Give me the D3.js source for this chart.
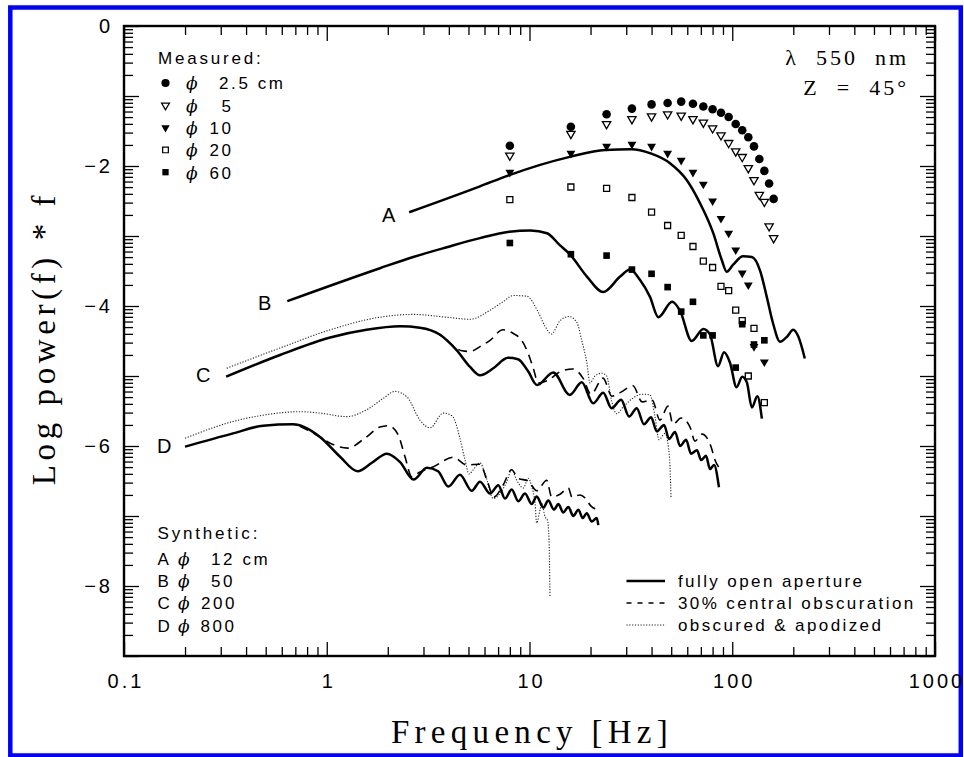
<!DOCTYPE html>
<html><head><meta charset="utf-8">
<script src="https://cdn.jsdelivr.net/npm/d3@7"></script>
<style>
body{margin:0;background:#fff}
.sans{font-family:"Liberation Sans",Arial,sans-serif}
.serif{font-family:"Liberation Serif","Times New Roman",serif}
.phi{font-family:"DejaVu Serif",serif;font-style:italic}
</style>
</head><body>
<svg id="c" width="964" height="757"></svg>
<script>
// ---------- data ----------
const xTickValues = [0.1, 1, 10, 100, 1000];
const xTickLabels = ["0.1", "1", "10", "100", "1000"];
const yTickValues = [0, -2, -4, -6, -8];

// measured points (Hz, log power*f)
const measFreq = [8,16,24,32,40,48,56,64,72,80,88,96,104,112,120,128,136,144,152,160];
const meas25 = [-1.71,-1.44,-1.26,-1.18,-1.12,-1.10,-1.08,-1.11,-1.15,-1.19,-1.24,-1.30,-1.40,-1.49,-1.59,-1.72,-1.90,-2.07,-2.25,-2.47];
const meas5  = [-1.85,-1.54,-1.40,-1.33,-1.29,-1.26,-1.28,-1.33,-1.38,-1.46,-1.56,-1.67,-1.79,-1.87,-2.03,-2.20,-2.41,-2.51,-2.86,-3.03];
const meas10Freq = [8,16,24,32,40,48,56,64,72,80,88,96,104,112,120,128,144];
const meas10 = [-2.09,-1.82,-1.72,-1.69,-1.72,-1.82,-1.92,-2.09,-2.26,-2.50,-2.75,-2.96,-3.20,-3.53,-3.70,-4.58,-4.80];
const meas20Freq = [8,16,24,32,40,48,56,64,72,80,88,96,104,112,120,128,144];
const meas20 = [-2.48,-2.30,-2.32,-2.45,-2.66,-2.85,-2.99,-3.15,-3.36,-3.45,-3.72,-3.78,-4.06,-4.21,-5.00,-4.32,-5.38];
const meas60Freq = [8,16,24,32,40,48,56,64,72,80,104,112,128,144];
const meas60 = [-3.10,-3.26,-3.28,-3.48,-3.54,-3.73,-4.08,-3.94,-4.42,-4.42,-4.88,-4.26,-4.55,-4.49];

// synthetic curves
const aFreq = [2.55,5.70,7.95,15.8,23.6,31.7,39.6,49.3,59.6,69.3,80.6,88.7,93.9,101,113,125,137,148,159,172,186,200,212,228];
const aVal  = [-2.66,-2.29,-2.13,-1.87,-1.77,-1.76,-1.82,-1.96,-2.20,-2.53,-2.96,-3.34,-3.51,-3.41,-3.29,-3.30,-3.49,-3.87,-4.25,-4.51,-4.44,-4.34,-4.44,-4.75];

const bFreq = [0.639,1.83,2.67,3.91,5.70,7.95,10.1,12.2,14.1,15.8,19.2,23.1,28.0,31.3,35.1,39.3,43.2,50.5,55.3,63.1,72.0,77.7,85.1,91.1,97.5,105,112,118,125,133,140];
const bVal  = [-3.93,-3.46,-3.30,-3.16,-3.03,-2.94,-2.92,-2.96,-3.13,-3.26,-3.58,-3.80,-3.58,-3.48,-3.63,-3.87,-4.16,-3.94,-4.07,-4.50,-4.33,-4.41,-4.86,-4.66,-4.81,-5.16,-5.01,-5.09,-5.45,-5.29,-5.61];

const cFreq = [0.319,0.588,1.04,1.57,2.30,2.88,3.62,4.37,5.09,5.70,6.63,7.83,8.78,9.83,10.9,13.1,15.8,18.1,20.6,23.1,25.4,28.3,31.0,33.8,36.7,39.8,42.4,46.1,48.8,52.2,55.3,59.2,62.6,67.0,70.2,74.2,77.7,81.3,86.0];
const cVal  = [-5.01,-4.70,-4.45,-4.34,-4.29,-4.31,-4.41,-4.63,-4.87,-4.99,-4.89,-4.74,-4.76,-4.93,-5.13,-4.95,-5.27,-5.09,-5.39,-5.24,-5.46,-5.34,-5.58,-5.46,-5.69,-5.59,-5.79,-5.70,-5.90,-5.80,-6.00,-5.91,-6.11,-6.06,-6.20,-6.14,-6.33,-6.27,-6.59];
const cDashFreq = [2.88,3.62,4.29,4.65,5.09,5.70,6.39,7.40,8.29,9.15,9.86,10.44,11.05,12.34,14.14,16.39,18.36,20.11,23.05,25.52,28.27,32.4,35.9,40.2,44.0,48.2,51.0,55.9,61.9,65.5,70.9,78.6,82.2,88.0];
const cDashVal  = [-4.31,-4.41,-4.59,-4.64,-4.65,-4.58,-4.49,-4.34,-4.39,-4.49,-4.68,-4.89,-5.10,-5.06,-4.94,-4.90,-5.03,-5.26,-5.03,-5.29,-5.23,-5.14,-5.37,-5.34,-5.63,-5.43,-5.69,-5.60,-5.73,-5.93,-5.83,-6.01,-6.20,-6.34];
const cDotFreq = [0.321,0.588,1.04,1.83,2.67,3.91,5.09,6.39,7.40,8.32,9.69,11.05,11.93,12.84,14.14,15.66,17.15,18.09,19.15,19.88,21.04,22.71,24.03,25.43,26.92,29.01,31.92,35.77,39.29,41.59,43.52,46.6,48.38,49.32,49.88];
const cDotVal  = [-4.89,-4.60,-4.34,-4.16,-4.12,-4.16,-4.19,-4.06,-3.94,-3.85,-3.86,-4.09,-4.29,-4.40,-4.21,-4.15,-4.24,-4.49,-4.80,-5.10,-5.00,-4.96,-5.00,-5.36,-5.54,-5.44,-5.33,-5.26,-5.27,-5.58,-5.91,-5.82,-6.01,-6.30,-6.73];

const dFreq = [0.2,0.345,0.485,0.682,0.926,1.16,1.42,1.67,1.98,2.30,2.68,3.12,3.54,3.98,4.54,5.19,5.70,6.39,7.02,7.57,8.17,8.81,9.50,10.25,10.85,11.7,12.38,13.21,13.87,14.68,15.54,16.44,17.41,18.3,19.15,20.27,21.45,21.85];
const dVal  = [-6.01,-5.82,-5.71,-5.69,-5.87,-6.15,-6.36,-6.24,-6.11,-6.23,-6.48,-6.31,-6.36,-6.58,-6.41,-6.64,-6.51,-6.68,-6.56,-6.75,-6.62,-6.79,-6.68,-6.83,-6.72,-6.88,-6.78,-6.91,-6.83,-6.95,-6.87,-7.00,-6.91,-7.03,-6.96,-7.08,-7.03,-7.13];
const dDashFreq = [0.738,0.926,1.04,1.27,1.54,1.83,2.01,2.25,2.43,2.63,2.88,3.34,4.21,4.90,5.70,6.17,6.68,7.40,8.17,8.78,9.86,10.85,12.16,12.87,14.14,15.54,16.2,17.75,18.78,20.11,21.85];
const dDashVal  = [-5.72,-5.87,-5.96,-6.03,-5.89,-5.73,-5.71,-5.84,-6.15,-6.44,-6.37,-6.30,-6.16,-6.27,-6.26,-6.49,-6.73,-6.56,-6.34,-6.46,-6.50,-6.64,-6.49,-6.73,-6.69,-6.60,-6.73,-6.70,-6.74,-6.86,-6.91];
const dDotFreq = [0.2,0.345,0.485,0.738,0.926,1.25,1.60,1.90,2.17,2.49,2.88,3.23,3.76,4.15,4.54,4.81,5.03,5.28,5.70,6.03,6.63,7.15,7.72,8.17,8.65,9.32,9.86,10.25,10.65,10.85,11.27,11.49,11.93,12.27,12.48,12.62];
const dDotVal  = [-5.89,-5.65,-5.56,-5.51,-5.53,-5.58,-5.47,-5.32,-5.22,-5.30,-5.63,-5.74,-5.53,-5.57,-5.89,-6.20,-6.40,-6.34,-6.24,-6.39,-6.75,-6.68,-6.51,-6.34,-6.49,-6.60,-6.46,-6.58,-6.82,-7.10,-6.91,-6.82,-7.01,-7.06,-7.34,-8.16];

const measuredLegend = [
  {sym:"circle", label:"2.5 cm", nx:219},
  {sym:"triOpen", label:"5", nx:221.5},
  {sym:"triFill", label:"10", nx:209.5},
  {sym:"sqOpen", label:"20", nx:209.5},
  {sym:"sqFill", label:"60", nx:209.5}
];
const syntheticLegend = [
  {key:"A", label:"12 cm", nx:211},
  {key:"B", label:"50", nx:211},
  {key:"C", label:"200", nx:201},
  {key:"D", label:"800", nx:200.5}
];
const lineLegend = ["fully open aperture", "30% central obscuration", "obscured & apodized"];

// ---------- drawing ----------
const svg = d3.select("#c");
const L = 124, R = 935, T = 26, B = 656;
const x = d3.scaleLog().domain([0.1, 1000]).range([L, R]);
const y = d3.scaleLinear().domain([0, -9]).range([T, B]);

svg.append("rect").attr("x",10.3).attr("y",7.5).attr("width",950.5).attr("height",748)
  .attr("fill","none").attr("stroke","#0000ff").attr("stroke-width",4.5);

// ticks
const xMinor = [];
[0.1,1,10,100].forEach(d => { for (let k=2;k<=9;k++) xMinor.push(k*d); });
const yMajor = d3.range(-9, 1);
const yMinor = [];
for (let n=-9;n<0;n++) for (let k=2;k<=9;k++) yMinor.push(n + Math.log10(k));

function tickGroup(axis, tx, ty) {
  const g = svg.append("g").attr("transform",`translate(${tx},${ty})`).call(axis);
  g.select(".domain").remove();
  g.selectAll(".tick line").attr("stroke","#000").attr("stroke-width",1.3);
  return g;
}
tickGroup(d3.axisBottom(x).tickValues(xMinor).tickSize(-9).tickFormat(""), 0, B);
tickGroup(d3.axisTop(x).tickValues(xMinor).tickSize(-9).tickFormat(""), 0, T);
tickGroup(d3.axisTop(x).tickValues(xTickValues).tickSize(-15).tickFormat(""), 0, T);
const xb = tickGroup(d3.axisBottom(x).tickValues(xTickValues).tickSize(-14).tickPadding(18)
  .tickFormat((d,i)=>xTickLabels[i]), 0, B);
xb.selectAll("text").attr("class","sans").attr("font-size",20).attr("letter-spacing",3)
  .attr("fill","#000").attr("dx",1.5);

tickGroup(d3.axisLeft(y).tickValues(yMinor).tickSize(-9).tickFormat(""), L, 0);
tickGroup(d3.axisRight(y).tickValues(yMinor).tickSize(-9).tickFormat(""), R, 0);
tickGroup(d3.axisRight(y).tickValues(yMajor).tickSize(-15).tickFormat(""), R, 0);
tickGroup(d3.axisLeft(y).tickValues(yMajor).tickSize(-15).tickFormat(""), L, 0);
const yl = tickGroup(d3.axisLeft(y).tickValues(yTickValues).tickSize(0).tickPadding(14)
  .tickFormat(d3.format("d")), L, 0);
yl.selectAll("text").attr("class","sans").attr("font-size",20).attr("letter-spacing",3)
  .attr("fill","#000").attr("dx",3);

// frame
svg.append("rect").attr("x",L).attr("y",T).attr("width",R-L).attr("height",B-T)
  .attr("fill","none").attr("stroke","#000").attr("stroke-width",2.4);

// curves
const line = d3.line().x(d=>x(d[0])).y(d=>y(d[1])).curve(d3.curveMonotoneX);
const styles = {
  solid:{w:2.5, dash:null, c:"#000"},
  dash:{w:1.6, dash:"9,6", c:"#000"},
  dot:{w:1.1, dash:"1.2,1.6", c:"#222"}
};
function curve(f, v, st) {
  const s = styles[st];
  svg.append("path").datum(d3.zip(f, v)).attr("d", line)
    .attr("fill","none").attr("stroke",s.c).attr("stroke-width",s.w)
    .attr("stroke-linejoin","round").attr("stroke-dasharray",s.dash);
}
curve(cDotFreq, cDotVal, "dot");
curve(dDotFreq, dDotVal, "dot");
curve(cDashFreq, cDashVal, "dash");
curve(dDashFreq, dDashVal, "dash");
curve(aFreq, aVal, "solid");
curve(bFreq, bVal, "solid");
curve(cFreq, cVal, "solid");
curve(dFreq, dVal, "solid");

// markers
const symPath = {
  circle: d3.symbol().type(d3.symbolCircle).size(58)(),
  triOpen: d3.symbol().type(d3.symbolTriangle).size(30)(),
  triFill: d3.symbol().type(d3.symbolTriangle).size(34)(),
  sqOpen: d3.symbol().type(d3.symbolSquare).size(36)(),
  sqFill: d3.symbol().type(d3.symbolSquare).size(44)()
};
function marker(g, sym, px, py, scale) {
  const p = g.append("path").attr("d", symPath[sym]);
  let tr = `translate(${px},${py})`;
  if (sym.startsWith("tri")) tr += " rotate(180)";
  if (scale) tr += ` scale(${scale})`;
  p.attr("transform", tr);
  if (sym === "triOpen" || sym === "sqOpen") p.attr("fill","#fff").attr("stroke","#000").attr("stroke-width",1.3);
  else p.attr("fill","#000");
}
const mg = svg.append("g");
function series(f, v, sym) { f.forEach((d,i)=> marker(mg, sym, x(d), y(v[i]))); }
series(measFreq, meas25, "circle");
series(measFreq, meas5, "triOpen");
series(meas10Freq, meas10, "triFill");
series(meas20Freq, meas20, "sqOpen");
series(meas60Freq, meas60, "sqFill");

// curve labels
const curveLabels = [["A",382,221.5],["B",258,310],["C",196,381.5],["D",157,452.5]];
curveLabels.forEach(([t,px,py]) => svg.append("text").attr("class","sans").attr("x",px).attr("y",py)
  .attr("font-size",20).text(t));

// measured legend
svg.append("text").attr("class","sans").attr("x",158).attr("y",64).attr("font-size",17)
  .attr("letter-spacing",2.8).text("Measured:");
measuredLegend.forEach((d,i) => {
  const cy = 83 + i*22.3;
  marker(svg, d.sym, 165.5, cy, 0.95);
  const t = svg.append("text").attr("class","sans").attr("y",cy+6.3).attr("font-size",17).attr("letter-spacing",2.6);
  t.append("tspan").attr("class","phi").attr("x",186).text("ϕ");
  t.append("tspan").attr("x",d.nx).text(d.label);
});

// synthetic legend
svg.append("text").attr("class","sans").attr("x",157.5).attr("y",539).attr("font-size",17)
  .attr("letter-spacing",2.8).text("Synthetic:");
syntheticLegend.forEach((d,i) => {
  const by = 565 + i*22.2;
  const t = svg.append("text").attr("class","sans").attr("y",by).attr("font-size",17).attr("letter-spacing",2.6);
  t.append("tspan").attr("x",157.5).text(d.key);
  t.append("tspan").attr("class","phi").attr("x",178).text("ϕ");
  t.append("tspan").attr("x",d.nx).text(d.label);
});

// line style legend
const lstyles = [["solid",2.4,null],["dash",1.5,"5,6"],["dot",1.1,"1.2,1.6"]];
lineLegend.forEach((lab,i) => {
  const ly = 581 + i*22;
  svg.append("line").attr("x1",626.5).attr("x2",665).attr("y1",ly).attr("y2",ly)
    .attr("stroke",i===2?"#222":"#000").attr("stroke-width",lstyles[i][1]).attr("stroke-dasharray",lstyles[i][2]);
  svg.append("text").attr("class","sans").attr("x",678).attr("y",ly+6).attr("font-size",17)
    .attr("letter-spacing",2.4).text(lab);
});

// conditions
svg.append("text").attr("class","serif").attr("x",909).attr("y",65).attr("font-size",22)
  .attr("letter-spacing",3).attr("text-anchor","end").attr("xml:space","preserve").text("λ  550  nm");
svg.append("text").attr("class","serif").attr("x",909).attr("y",95).attr("font-size",22)
  .attr("letter-spacing",3).attr("text-anchor","end").attr("xml:space","preserve").text("Z  =  45°");

// axis titles
svg.append("text").attr("class","serif").attr("x",532).attr("y",743).attr("font-size",33)
  .attr("letter-spacing",5.3).attr("text-anchor","middle").text("Frequency [Hz]");
svg.append("text").attr("class","serif").attr("transform","translate(55,338) rotate(-90)")
  .attr("font-size",33).attr("letter-spacing",4.6).attr("text-anchor","middle").text("Log power(f) * f");
</script>
</body></html>
